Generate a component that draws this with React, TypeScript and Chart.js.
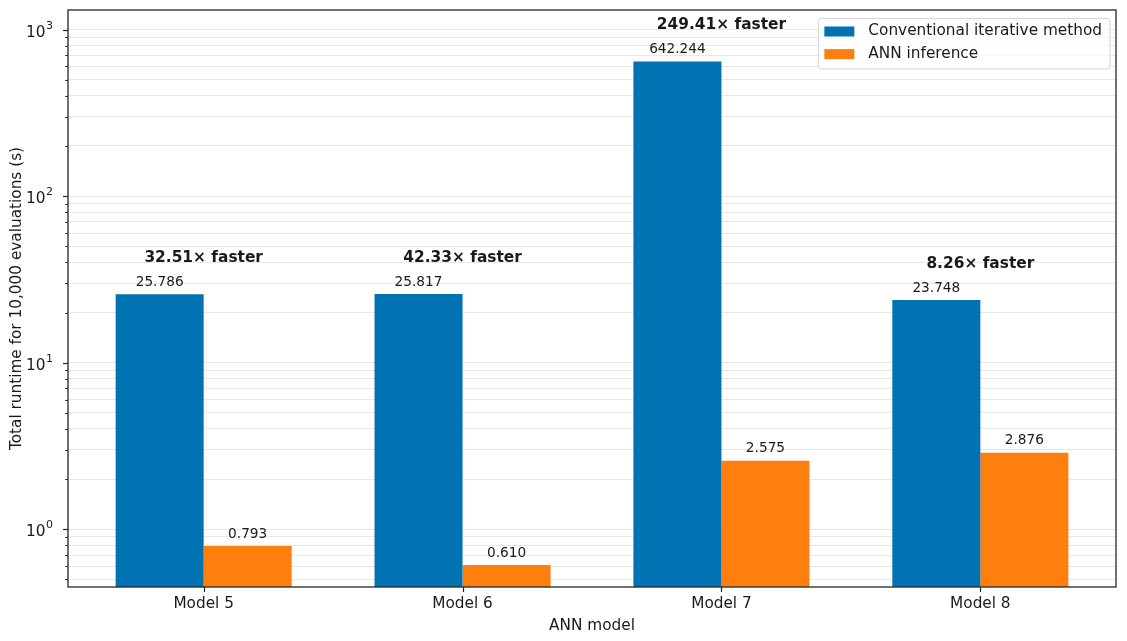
import { Chart, registerables } from "chart.js";
import React, { useEffect, useRef } from "react";

Chart.register(...registerables);

const categories = ["Model 5", "Model 6", "Model 7", "Model 8"];
const conventionalRuntime = [25.786, 25.817, 642.244, 23.748];
const annRuntime = [0.793, 0.61, 2.575, 2.876];
const speedupLabels = ["32.51× faster", "42.33× faster", "249.41× faster", "8.26× faster"];
const seriesNames = ["Conventional iterative method", "ANN inference"];
const seriesColors = ["#0173B2", "#FF7F0E"];

// log axis ticks (major + minor); decades get a label "10^n"
const yTickValues = [
  0.5, 0.6, 0.7, 0.8, 0.9,
  1, 2, 3, 4, 5, 6, 7, 8, 9,
  10, 20, 30, 40, 50, 60, 70, 80, 90,
  100, 200, 300, 400, 500, 600, 700, 800, 900,
  1000,
];
const decadeExponents: Record<number, string> = { 1: "0", 10: "1", 100: "2", 1000: "3" };

const FONT = "'DejaVu Sans', sans-serif";
const TEXT = "#1a1a1a";
const AXIS = "#262626";

const overlayPlugin = {
  id: "overlay",
  afterDraw(chart: any) {
    const { ctx, chartArea: a } = chart;
    const xs = chart.scales.x;
    const ys = chart.scales.y;
    ctx.save();

    // axes frame
    ctx.strokeStyle = AXIS;
    ctx.lineWidth = 1.3;
    ctx.strokeRect(a.left, a.top, a.right - a.left, a.bottom - a.top);

    // y tick marks + decade labels
    for (const t of ys.ticks) {
      const py = Math.round(ys.getPixelForValue(t.value)) + 0.5;
      const exp = decadeExponents[t.value];
      const major = exp !== undefined;
      ctx.strokeStyle = AXIS;
      ctx.lineWidth = major ? 1.2 : 0.9;
      ctx.beginPath();
      ctx.moveTo(a.left - (major ? 5 : 3), py);
      ctx.lineTo(a.left, py);
      ctx.stroke();
      if (major) {
        ctx.fillStyle = TEXT;
        ctx.textAlign = "right";
        ctx.textBaseline = "alphabetic";
        const rightEdge = a.left - 15;
        ctx.font = `11px ${FONT}`;
        const ew = ctx.measureText(exp).width;
        ctx.fillText(exp, rightEdge, py - 1.5);
        ctx.font = `15.3px ${FONT}`;
        ctx.fillText("10", rightEdge - ew - 0.5, py + 6.5);
      }
    }
    // x tick marks
    ctx.lineWidth = 1.2;
    categories.forEach((_, i) => {
      const px = Math.round(xs.getPixelForValue(i)) + 0.5;
      ctx.beginPath();
      ctx.moveTo(px, a.bottom);
      ctx.lineTo(px, a.bottom + 5);
      ctx.stroke();
    });

    // value labels
    ctx.fillStyle = TEXT;
    ctx.textAlign = "center";
    ctx.textBaseline = "middle";
    ctx.font = `13.7px ${FONT}`;
    const series = [conventionalRuntime, annRuntime];
    series.forEach((vals, di) => {
      const meta = chart.getDatasetMeta(di);
      meta.data.forEach((bar: any, i: number) => {
        ctx.fillText(vals[i].toFixed(3), bar.x, bar.y - 12);
      });
    });

    // speed-up annotations
    ctx.font = `bold 15.4px ${FONT}`;
    const m0 = chart.getDatasetMeta(0);
    const m1 = chart.getDatasetMeta(1);
    speedupLabels.forEach((s, i) => {
      const top = Math.min(m0.data[i].y, m1.data[i].y);
      ctx.fillText(s, xs.getPixelForValue(i), top - 36.5);
    });

    // legend
    ctx.font = `15.3px ${FONT}`;
    const textW = Math.max(...seriesNames.map((n) => ctx.measureText(n).width));
    const w = 6 + 30 + 14 + textW + 8;
    const right = a.right - 6;
    const left = right - w;
    const top = a.top + 8.5;
    const h = 50.5;
    ctx.beginPath();
    ctx.roundRect(left, top, w, h, 3);
    ctx.fillStyle = "rgba(255,255,255,0.8)";
    ctx.fill();
    ctx.strokeStyle = "#d4d4d4";
    ctx.lineWidth = 1;
    ctx.stroke();
    ctx.textAlign = "left";
    seriesNames.forEach((n, i) => {
      const cy = top + 13 + i * 22.6;
      ctx.fillStyle = seriesColors[i];
      ctx.fillRect(left + 6, cy - 5, 30, 10);
      ctx.fillStyle = TEXT;
      ctx.fillText(n, left + 50, cy);
    });

    ctx.restore();
  },
};

const App: React.FC = () => {
  const canvasRef = useRef<HTMLCanvasElement>(null);

  useEffect(() => {
    document.body.style.margin = "0";
    if (!canvasRef.current) return;
    const ctx = canvasRef.current.getContext("2d");
    if (!ctx) return;

    const chart = new Chart(ctx, {
      type: "bar",
      data: {
        datasets: [
          {
            label: seriesNames[0],
            data: conventionalRuntime.map((v, i) => ({ x: i, y: v })),
            backgroundColor: seriesColors[0],
          },
          {
            label: seriesNames[1],
            data: annRuntime.map((v, i) => ({ x: i, y: v })),
            backgroundColor: seriesColors[1],
          },
        ],
      },
      options: {
        responsive: false,
        animation: false,
        layout: { autoPadding: false, padding: { left: 0, right: 11, top: 10, bottom: 0 } },
        datasets: {
          bar: { categoryPercentage: 0.68, barPercentage: 1 },
        },
        scales: {
          x: {
            type: "linear",
            min: -0.524,
            max: 3.524,
            offset: false,
            grid: { display: false, drawTicks: false },
            border: { display: false },
            afterBuildTicks: (scale: any) => {
              scale.ticks = categories.map((_, i) => ({ value: i }));
            },
            afterFit: (scale: any) => {
              scale.height = 54;
              scale.paddingLeft = 0;
              scale.paddingRight = 0;
            },
            ticks: {
              autoSkip: false,
              padding: 8,
              color: TEXT,
              font: { family: FONT, size: 15.3 },
              callback: (v: any) => categories[v as number] ?? "",
            },
            title: {
              display: true,
              text: "ANN model",
              color: TEXT,
              font: { family: FONT, size: 15.3 },
              padding: { top: 0, bottom: 6 },
            },
          },
          y: {
            type: "logarithmic",
            min: 0.45,
            max: 1310,
            z: 1,
            grid: {
              color: "rgba(190,190,190,0.35)",
              lineWidth: 1,
              drawTicks: false,
            },
            border: { display: false },
            afterBuildTicks: (scale: any) => {
              scale.ticks = yTickValues.map((v) => ({ value: v, major: decadeExponents[v] !== undefined }));
            },
            afterFit: (scale: any) => {
              scale.width = 68;
              scale.paddingTop = 0;
              scale.paddingBottom = 0;
            },
            ticks: { display: false, autoSkip: false },
            title: {
              display: true,
              text: "Total runtime for 10,000 evaluations (s)",
              color: TEXT,
              font: { family: FONT, size: 15.3 },
              padding: { top: 8, bottom: 0 },
            },
          },
        },
        plugins: {
          legend: { display: false },
          tooltip: { enabled: false },
        },
      },
      plugins: [overlayPlugin],
    });

    return () => {
      chart.destroy();
    };
  }, []);

  return <canvas ref={canvasRef} width={1127} height={641} />;
};

export default App;
